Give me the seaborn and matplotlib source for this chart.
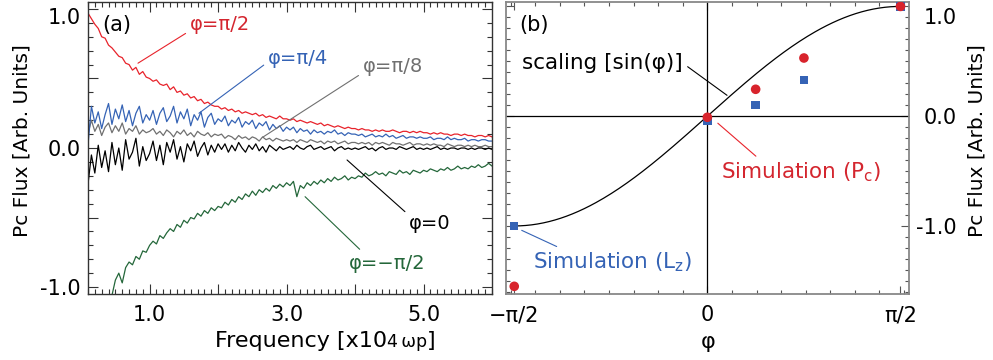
import numpy as np
import matplotlib
matplotlib.use("Agg")
import matplotlib.pyplot as plt
import matplotlib.transforms as mtransforms
from matplotlib.ticker import MultipleLocator, FixedLocator
import seaborn as sns

sns.set_style("ticks")
plt.rcParams["font.family"] = ["DejaVu Sans"]
plt.rcParams["mathtext.fontset"] = "dejavusans"
plt.rcParams["text.color"] = "black"
plt.rcParams["axes.labelcolor"] = "black"

# ---- panel (a): flux spectra ----
freq = np.round(np.arange(0.10, 6.001, 0.05), 2)

flux_pi2 = [0.97, 0.93, 0.89, 0.86, 0.80, 0.79, 0.74, 0.72, 0.69, 0.66, 0.65, 0.61, 0.60, 0.56, 0.58, 0.53, 0.55, 0.51, 0.50,
            0.48, 0.49, 0.46, 0.45, 0.46, 0.42, 0.44, 0.40, 0.41, 0.38, 0.39, 0.36, 0.37, 0.34, 0.35, 0.32, 0.33, 0.31, 0.30, 0.30,
            0.28, 0.29, 0.27, 0.28, 0.26, 0.27, 0.25, 0.26, 0.25, 0.24, 0.25, 0.23, 0.24, 0.22, 0.23, 0.22, 0.21, 0.23, 0.21, 0.21,
            0.20, 0.21, 0.19, 0.20, 0.19, 0.18, 0.19, 0.18, 0.17, 0.18, 0.16, 0.17, 0.16, 0.15, 0.16, 0.15, 0.14, 0.15, 0.14, 0.14,
            0.13, 0.14, 0.13, 0.13, 0.12, 0.13, 0.12, 0.13, 0.12, 0.12, 0.13, 0.12, 0.11, 0.12, 0.12, 0.11, 0.12, 0.11, 0.12, 0.11,
            0.11, 0.10, 0.11, 0.10, 0.11, 0.10, 0.10, 0.09, 0.10, 0.10, 0.09, 0.10, 0.09, 0.09, 0.08, 0.09, 0.09, 0.08, 0.09, 0.08]

flux_pi4 = [0.02, 0.30, 0.18, 0.26, 0.14, 0.24, 0.32, 0.17, 0.28, 0.21, 0.31, 0.19, 0.27, 0.16, 0.25, 0.30, 0.18, 0.24, 0.20,
            0.27, 0.17, 0.25, 0.29, 0.19, 0.23, 0.30, 0.18, 0.26, 0.21, 0.28, 0.16, 0.24, 0.20, 0.26, 0.15, 0.22, 0.25, 0.17, 0.21,
            0.19, 0.23, 0.16, 0.20, 0.18, 0.22, 0.15, 0.19, 0.17, 0.20, 0.14, 0.18, 0.16, 0.19, 0.13, 0.17, 0.14, 0.16, 0.12, 0.15,
            0.13, 0.15, 0.11, 0.14, 0.12, 0.13, 0.10, 0.13, 0.11, 0.12, 0.10, 0.12, 0.11, 0.13, 0.10, 0.11, 0.09, 0.11, 0.10, 0.10,
            0.09, 0.10, 0.08, 0.09, 0.10, 0.08, 0.09, 0.08, 0.10, 0.08, 0.09, 0.07, 0.08, 0.09, 0.07, 0.08, 0.08, 0.07, 0.08, 0.07,
            0.07, 0.08, 0.06, 0.07, 0.07, 0.06, 0.08, 0.06, 0.07, 0.06, 0.06, 0.07, 0.05, 0.06, 0.06, 0.05, 0.06, 0.06, 0.05, 0.05]

flux_pi8 = [0.10, 0.20, 0.12, 0.17, 0.09, 0.15, 0.18, 0.11, 0.16, 0.12, 0.18, 0.10, 0.14, 0.12, 0.16, 0.10, 0.13, 0.11, 0.12,
            0.14, 0.10, 0.12, 0.09, 0.13, 0.11, 0.08, 0.12, 0.10, 0.13, 0.09, 0.11, 0.08, 0.12, 0.10, 0.09, 0.11, 0.08, 0.10, 0.09,
            0.10, 0.07, 0.09, 0.08, 0.06, 0.09, 0.07, 0.08, 0.06, 0.08, 0.07, 0.05, 0.08, 0.06, 0.07, 0.05, 0.07, 0.06, 0.05, 0.06,
            0.05, 0.06, 0.04, 0.06, 0.05, 0.04, 0.06, 0.05, 0.04, 0.05, 0.03, 0.05, 0.04, 0.05, 0.03, 0.04, 0.05, 0.03, 0.04, 0.04,
            0.03, 0.04, 0.03, 0.04, 0.02, 0.04, 0.03, 0.04, 0.03, 0.02, 0.04, 0.03, 0.03, 0.02, 0.03, 0.04, 0.02, 0.03, 0.03, 0.02,
            0.03, 0.02, 0.03, 0.02, 0.02, 0.01, 0.03, 0.02, 0.01, 0.02, 0.02, 0.01, 0.02, 0.01, 0.02, 0.01, 0.01, 0.02, 0.01, 0.01]

flux_0 = [-0.26, -0.05, -0.18, 0.02, -0.14, -0.02, -0.17, 0.04, -0.12, 0.00, -0.16, 0.06, -0.08, -0.03, 0.07, -0.13, 0.01, -0.09, -0.04,
          0.05, -0.09, 0.02, -0.12, 0.04, -0.03, 0.06, -0.08, 0.01, -0.10, 0.03, -0.02, 0.05, -0.06, 0.00, 0.04, -0.05, 0.02, -0.03, 0.03,
          -0.01, 0.03, -0.03, 0.02, -0.02, 0.04, 0.00, -0.03, 0.02, -0.01, 0.03, -0.02, 0.01, -0.03, 0.02, 0.00, -0.02, 0.01, -0.01, 0.00,
          0.01, -0.01, 0.02, 0.00, -0.01, 0.01, 0.02, -0.01, 0.00, 0.01, -0.01, 0.00, 0.01, -0.02, 0.00, 0.01, -0.01, 0.00, -0.01, 0.00,
          -0.01, 0.00, 0.01, -0.01, 0.00, -0.02, 0.00, 0.01, -0.01, 0.00, 0.00, -0.01, 0.01, 0.00, -0.01, 0.00, 0.01, -0.01, 0.00, -0.01,
          0.00, -0.01, 0.00, 0.01, -0.01, 0.00, -0.01, 0.00, 0.00, -0.01, 0.00, 0.00, -0.01, 0.00, -0.01, 0.00, 0.00, -0.01, 0.00, -0.01]

flux_mpi2 = [np.nan] * 7 + [-1.06, -0.95, -0.90, -0.97, -0.86, -0.82, -0.84, -0.78, -0.80, -0.74, -0.75, -0.70,
             -0.67, -0.69, -0.63, -0.65, -0.61, -0.58, -0.60, -0.55, -0.57, -0.52, -0.54, -0.50, -0.51, -0.47, -0.49, -0.45, -0.47, -0.43, -0.45, -0.42,
             -0.43, -0.39, -0.41, -0.37, -0.39, -0.35, -0.37, -0.33, -0.35, -0.31, -0.34, -0.30, -0.32, -0.29, -0.31, -0.27, -0.29, -0.26, -0.28, -0.25,
             -0.27, -0.24, -0.35, -0.27, -0.29, -0.25, -0.27, -0.24, -0.26, -0.23, -0.25, -0.22, -0.24, -0.21, -0.23, -0.22, -0.20, -0.23, -0.21, -0.22,
             -0.20, -0.21, -0.18, -0.20, -0.19, -0.17, -0.19, -0.18, -0.20, -0.17, -0.18, -0.19, -0.16, -0.18, -0.17, -0.19, -0.16, -0.17, -0.18, -0.16,
             -0.17, -0.15, -0.16, -0.17, -0.15, -0.16, -0.14, -0.16, -0.15, -0.13, -0.15, -0.14, -0.15, -0.13, -0.14, -0.12, -0.14, -0.13, -0.11, -0.13]

# ---- panel (b): simulation points ----
phi_sim = [-np.pi / 2, 0.0, np.pi / 8, np.pi / 4, np.pi / 2]
pc_sim = [-1.55, -0.01, 0.245, 0.53, 1.0]
lz_sim = [-1.0, -0.04, 0.10, 0.33, 1.0]

RED, RED_T = "#e8232b", "#d4262f"
BLUE = "#3563b5"
GRAY = "#707070"
GREEN = "#24673a"

fig = plt.figure(figsize=(9.93, 3.6), dpi=100)
ax1 = fig.add_axes([0.0886, 0.1833, 0.4069, 0.8111])
ax2 = fig.add_axes([0.5093, 0.1833, 0.4061, 0.8111])

"""Panel (a)"""
series = [(flux_pi8, GRAY), (flux_0, "black"), (flux_pi4, BLUE), (flux_pi2, RED), (flux_mpi2, GREEN)]
for vals, col in series:
    sns.lineplot(x=freq, y=vals, ax=ax1, color=col, lw=0.9, estimator=None, sort=False)

ax1.set_xlim(0.1, 6.0)
ax1.set_ylim(-1.05, 1.05)
ax1.xaxis.set_major_locator(FixedLocator([1, 2, 3, 4, 5]))
ax1.set_xticklabels(["1.0", "", "3.0", "", "5.0"])
ax1.xaxis.set_minor_locator(MultipleLocator(0.1))
ax1.yaxis.set_major_locator(FixedLocator([-1, -0.5, 0, 0.5, 1]))
ax1.set_yticklabels(["-1.0", "", "0.0", "", "1.0"])
ax1.yaxis.set_minor_locator(MultipleLocator(0.1))
ax1.tick_params(which="both", direction="in", top=True, right=True, color="#333333", width=0.8,
                labelcolor="black")
ax1.tick_params(which="major", length=7, labelsize=15)
ax1.tick_params(which="minor", length=3.5)
ax1.tick_params(axis="x", pad=8)
ax1.tick_params(axis="y", pad=5)
for sp in ax1.spines.values():
    sp.set_color("#333333")
    sp.set_linewidth(1.0)

ax1.set_ylabel("Pc Flux [Arb. Units]", fontsize=14.5)
ax1.yaxis.set_label_coords(-0.14, 0.527)

t1 = ax1.text(0.314, -0.1815, "Frequency [x10", transform=ax1.transAxes, fontsize=16, ha="left", va="baseline")
t2 = ax1.annotate("4\u2009ωp", xy=(1, 0), xycoords=t1, fontsize=12.5, ha="left", va="bottom")
ax1.annotate("]", xy=(1, 0), xycoords=(t2, t1), fontsize=16, ha="left", va="bottom")

ax1.text(0.035, 0.921, "(a)", transform=ax1.transAxes, fontsize=15, ha="left", va="center")

labels_a = [
    ("φ=π/2", (2.03, 0.885), (0.83, 0.61), RED_T, RED, (0, 0.2)),
    ("φ=π/4", (3.17, 0.647), (1.72, 0.25), BLUE, BLUE, (0, 0.3)),
    ("φ=π/8", (4.555, 0.583), (2.656, 0.079), GRAY, GRAY, (0, 0.2)),
    ("φ=0", (5.095, -0.54), (3.883, -0.086), "black", "black", (0, 0.9)),
    ("φ=−π/2", (4.467, -0.827), (3.27, -0.35), GREEN, GREEN, (0.2, 1)),
]
for txt, pos, end, tc, lc, rp in labels_a:
    ax1.annotate(txt, xy=end, xytext=pos, fontsize=14, color=tc, ha="center", va="center",
                 arrowprops=dict(arrowstyle="-", color=lc, lw=0.8, relpos=rp, shrinkA=1, shrinkB=0))

"""Panel (b)"""
phi_line = np.linspace(-np.pi / 2, np.pi / 2, 200)
ax2.axhline(0, color="black", lw=0.9, zorder=1)
ax2.axvline(0, color="black", lw=0.9, zorder=1)
sns.lineplot(x=phi_line, y=np.sin(phi_line), ax=ax2, color="black", lw=0.9, estimator=None)
sns.scatterplot(x=phi_sim, y=lz_sim, ax=ax2, marker="s", s=36, color=BLUE, edgecolor="none", zorder=3)
sns.scatterplot(x=phi_sim, y=pc_sim, ax=ax2, marker="o", s=48, color="#d8232c", edgecolor="none", zorder=4)

ax2.set_xlim(-1.64, 1.64)
ax2.set_ylim(-1.62, 1.04)
ax2.xaxis.set_major_locator(FixedLocator([-np.pi / 2, 0, np.pi / 2]))
ax2.set_xticklabels(["−π/2", "0", "π/2"])
ax2.xaxis.set_minor_locator(MultipleLocator(0.2))
ax2.yaxis.set_major_locator(FixedLocator([-1, 0, 1]))
ax2.set_yticklabels(["-1.0", "0.0", "1.0"])
ax2.yaxis.set_minor_locator(MultipleLocator(0.1))
ax2.tick_params(which="both", direction="in", top=True, left=True, right=True,
                labelleft=False, labelright=True, color="#555555", width=0.8, labelcolor="black")
ax2.tick_params(which="major", length=6, labelsize=15)
ax2.tick_params(which="minor", length=3)
ax2.tick_params(axis="x", pad=8)
ax2.tick_params(axis="y", pad=34.5)
for sp in ax2.spines.values():
    sp.set_color("#888888")
    sp.set_linewidth(1.3)

ax2.set_xlabel("φ", fontsize=16)
ax2.xaxis.set_label_coords(0.5016, -0.13)
ax2.yaxis.set_label_position("right")
ax2.set_ylabel("Pc Flux [Arb. Units]", fontsize=14.5)
ax2.yaxis.set_label_coords(1.146, 0.527)

ax2.text(0.033, 0.921, "(b)", transform=ax2.transAxes, fontsize=15, ha="left", va="center")

labels_b = [
    ("scaling [sin(φ)]", (-0.85, 0.48), (0.16, 0.19), "black", "black", (1, 0.5)),
    ("Simulation (P$\\mathregular{_c}$)", (0.76, -0.51), (0.085, -0.064), RED_T, RED, (0.25, 1)),
    ("Simulation (L$\\mathregular{_z}$)", (-0.77, -1.33), (-1.51, -1.04), BLUE, BLUE, (0.2, 1)),
]
for txt, pos, end, tc, lc, rp in labels_b:
    ax2.annotate(txt, xy=end, xytext=pos, fontsize=15.5, color=tc, ha="center", va="center",
                 arrowprops=dict(arrowstyle="-", color=lc, lw=0.8, relpos=rp, shrinkA=1, shrinkB=0))

# right-aligned labels on the right axis, and nudge the top labels down
for lab in ax2.get_yticklabels():
    lab.set_horizontalalignment("right")
for ax, dy in [(ax1, -5), (ax2, -7)]:
    labs = ax.get_yticklabels()
    top = labs[-1]
    top.set_transform(top.get_transform() + mtransforms.ScaledTranslation(0, dy / 72, fig.dpi_scale_trans))

fig.savefig("out.png", dpi=100)
